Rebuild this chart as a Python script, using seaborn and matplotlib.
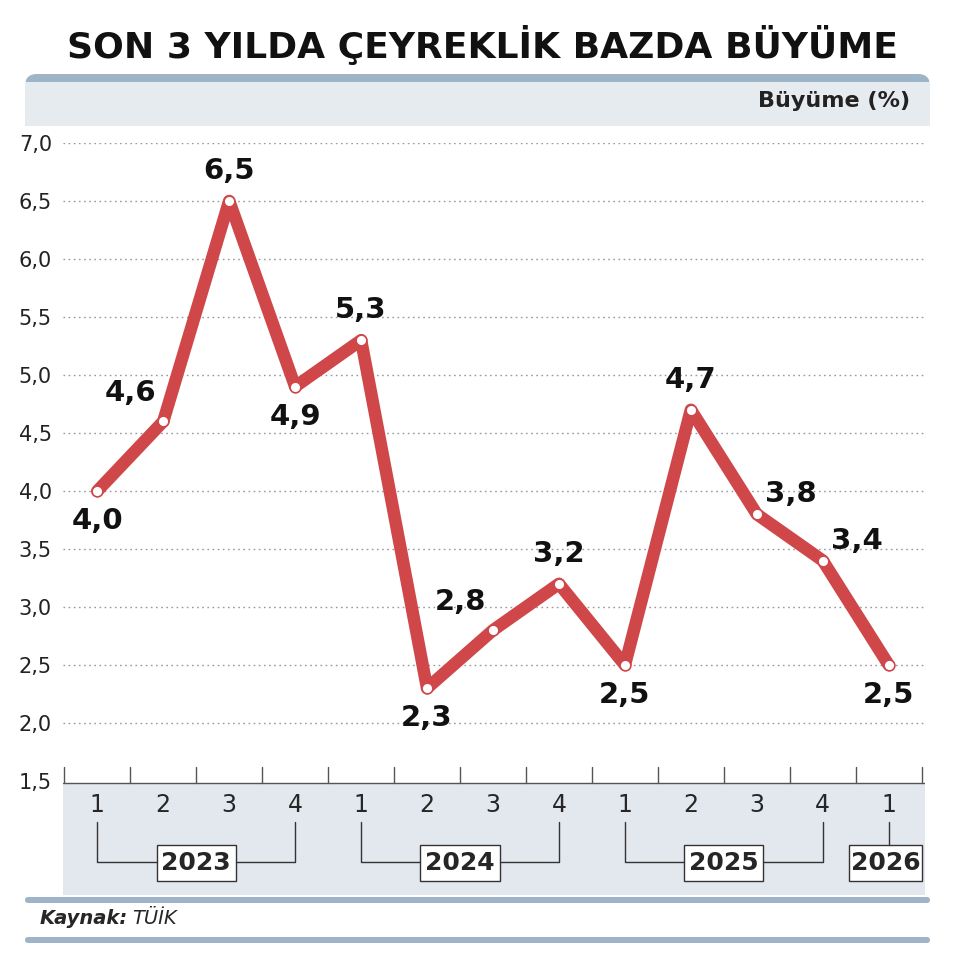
import matplotlib
matplotlib.use("Agg")
import matplotlib.pyplot as plt
import seaborn as sns
import pandas as pd
from matplotlib.patches import FancyBboxPatch, Rectangle

quarters = ["1","2","3","4","1","2","3","4","1","2","3","4","1"]
years = ["2023","2024","2025","2026"]
values = [4.0,4.6,6.5,4.9,5.3,2.3,2.8,3.2,2.5,4.7,3.8,3.4,2.5]
label_pos = ["below","aboveleft","above","below","above","below","aboveleft","above","below","above","right","right","below"]
yticks = [1.5,2.0,2.5,3.0,3.5,4.0,4.5,5.0,5.5,6.0,6.5,7.0]

sns.set_style("white")
FAM = ['Liberation Sans Narrow', 'DejaVu Sans']
plt.rcParams['font.family'] = FAM

W, H = 965, 966
fig = plt.figure(figsize=(W/100, H/100), dpi=100)
fx = lambda x: x / W
fy = lambda y: 1 - y / H

fig.text(0.5, fy(45), "SON 3 YILDA ÇEYREKLİK BAZDA BÜYÜME", ha="center", va="center",
         fontsize=26, fontweight="bold", color="#111111", family=FAM)

# header band
fig.patches.append(FancyBboxPatch((fx(25), fy(126)), fx(905), fy(74)-fy(126),
    boxstyle="round,pad=0,rounding_size=0.012", transform=fig.transFigure,
    facecolor="#9fb5c7", edgecolor="none", zorder=0))
fig.patches.append(Rectangle((fx(25), fy(126)), fx(905), fy(82)-fy(126),
    transform=fig.transFigure, facecolor="#e6ebf0", edgecolor="none", zorder=0))
fig.text(fx(910), fy(101), "Büyüme (%)", ha="right", va="center", fontsize=16,
         fontweight="bold", color="#222222", family=FAM)

# main axes
left, right = fx(63), fx(925)
ax = fig.add_axes([left, fy(781), right-left, fy(143)-fy(781)])
df = pd.DataFrame({"x": range(1, 14), "v": values})
sns.lineplot(data=df, x="x", y="v", ax=ax, color="#d0474a", lw=9, solid_joinstyle="round",
             solid_capstyle="round", zorder=3)
ax.scatter(df["x"], df["v"], s=60, facecolor="white", edgecolor="#d0474a", linewidth=1.2, zorder=4)
ax.set_xlim(0.48, 13.55)
ax.set_ylim(1.5, 7.0)
ax.set_yticks(yticks)
ax.set_yticklabels([f"{t:.1f}".replace(".", ",") for t in yticks], fontsize=15, color="#222222", family=FAM)
ax.tick_params(axis="y", length=0, pad=8)
ax.set_xticks([])
ax.set_xlabel(""); ax.set_ylabel("")
for t in yticks[1:]:
    ax.axhline(t, color="#999999", lw=1, ls=(0, (1.2, 2.5)), zorder=1)
for s in ax.spines.values():
    s.set_visible(False)
ax.patch.set_visible(False)
for i, (v, p) in enumerate(zip(values, label_pos)):
    x = i + 1
    lbl = f"{v:.1f}".replace(".", ",")
    kw = dict(fontsize=21, fontweight="bold", color="#111111", family=FAM)
    if p == "above":
        ax.text(x, v + 0.14, lbl, ha="center", va="bottom", **kw)
    elif p == "aboveleft":
        ax.text(x - 0.1, v + 0.12, lbl, ha="right", va="bottom", **kw)
    elif p == "below":
        ax.text(x, v - 0.14, lbl, ha="center", va="top", **kw)
    else:
        ax.text(x + 0.12, v + 0.05, lbl, ha="left", va="bottom", **kw)

# bottom axis
bx = fig.add_axes([left, fy(895), right-left, fy(765)-fy(895)], sharex=ax)
bx.set_ylim(895, 765)
bx.axis("off")
bx.add_patch(Rectangle((0.48, 783), 13.07, 112, facecolor="#e3e8ee", edgecolor="none"))
bx.plot([0.48, 13.55], [783, 783], color="#555555", lw=1)
for k in range(14):
    bx.plot([0.5 + k, 0.5 + k], [767, 783], color="#555555", lw=1)
for i, q in enumerate(quarters):
    bx.text(i + 1, 805, q, ha="center", va="center", fontsize=17, family=FAM)
groups = [(1, 4, "2023"), (5, 8, "2024"), (9, 12, "2025")]
for a, b, y in groups:
    c = (a + b) / 2
    bx.plot([a, a, c - 0.6], [822, 862, 862], color="#333333", lw=1)
    bx.plot([b, b, c + 0.6], [822, 862, 862], color="#333333", lw=1)
    bx.add_patch(Rectangle((c - 0.6, 845), 1.2, 36, facecolor="white", edgecolor="#333333", lw=1))
    bx.text(c, 863, y, ha="center", va="center", fontsize=18, fontweight="bold", family=FAM)
bx.plot([13, 13], [822, 845], color="#333333", lw=1)
bx.add_patch(Rectangle((12.4, 845), 1.1, 36, facecolor="white", edgecolor="#333333", lw=1))
bx.text(12.95, 863, "2026", ha="center", va="center", fontsize=18, fontweight="bold", family=FAM)

# footer lines
for yy in (900, 940):
    fig.patches.append(FancyBboxPatch((fx(25), fy(yy + 3)), fx(905), fy(yy - 3) - fy(yy + 3),
        boxstyle="round,pad=0,rounding_size=0.003", transform=fig.transFigure,
        facecolor="#9fb5c7", edgecolor="none"))
fig.text(fx(40), fy(919), "Kaynak:", ha="left", va="center", fontsize=14, fontweight="bold",
         style="italic", family=['DejaVu Sans'])
fig.text(fx(132), fy(919), "TÜİK", ha="left", va="center", fontsize=14, style="italic", family=['DejaVu Sans'])

fig.savefig("out.png", dpi=100, facecolor="white")
